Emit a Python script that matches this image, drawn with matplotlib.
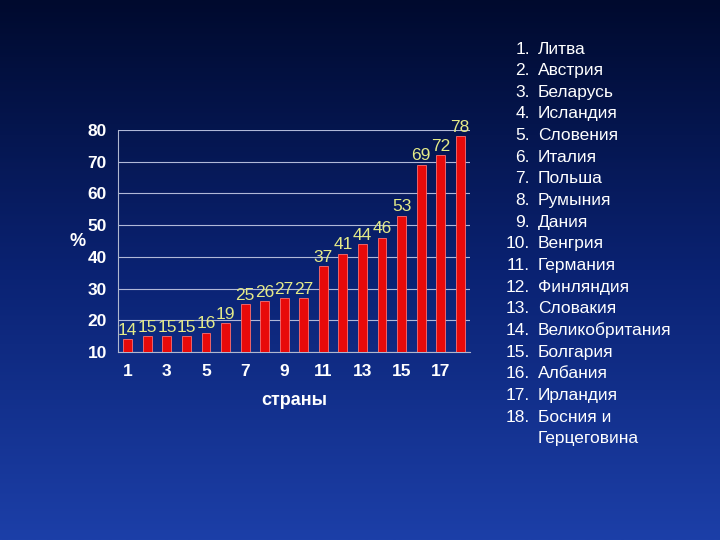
import matplotlib
matplotlib.use("Agg")
import matplotlib.pyplot as plt
import numpy as np
from matplotlib.colors import LinearSegmentedColormap

countries = ["Литва", "Австрия", "Беларусь", "Исландия", "Словения", "Италия",
             "Польша", "Румыния", "Дания", "Венгрия", "Германия", "Финляндия",
             "Словакия", "Великобритания", "Болгария", "Албания", "Ирландия",
             "Босния и\nГерцеговина"]
positions = list(range(1, 19))
values = [14, 15, 15, 15, 16, 19, 25, 26, 27, 27, 37, 41, 44, 46, 53, 69, 72, 78]
yticks = [10, 20, 30, 40, 50, 60, 70, 80]
xticks = [1, 3, 5, 7, 9, 11, 13, 15, 17]

plt.rcParams['font.family'] = ['Liberation Sans', 'DejaVu Sans']

fig = plt.figure(figsize=(7.2, 5.4), dpi=100)
bg = fig.add_axes([0, 0, 1, 1])
cmap = LinearSegmentedColormap.from_list("bg", ["#000a2e", "#0a2272", "#1c3fa8"])
grad = np.linspace(0, 1, 256).reshape(-1, 1)
bg.imshow(grad, aspect='auto', cmap=cmap, extent=[0, 1, 0, 1], origin='upper')
bg.axis('off')

ax = fig.add_axes([118/720, 1 - 352/540, (470-118)/720, (352-130)/540])
ax.patch.set_alpha(0)
ax.bar(positions, values, width=0.45, color="#e80a0a", edgecolor="#ff7070",
       linewidth=0.6, zorder=3)
ax.set_xlim(0.5, 18.5)
ax.set_ylim(10, 80)
ax.set_yticks(yticks)
ax.set_xticks(xticks)
ax.grid(axis='y', color='#b0b8d8', linewidth=0.8, zorder=0)
for s in ['top', 'right']:
    ax.spines[s].set_visible(False)
for s in ['left', 'bottom']:
    ax.spines[s].set_color('#b0b8d0')
ax.tick_params(colors='white', labelsize=12.5)
ax.tick_params(axis='y', length=0, pad=8)
ax.tick_params(axis='x', length=0, pad=9)
for lab in ax.get_yticklabels() + ax.get_xticklabels():
    lab.set_fontweight('bold')

for p, v in zip(positions, values):
    ax.text(p, v + 0.5, str(v), ha='center', va='bottom', color='#e4ea88',
            fontsize=12.5, zorder=4)

ax.set_ylabel('%', color='white', fontsize=13, rotation=0, labelpad=7,
              fontweight='bold', va='center')
ax.set_xlabel('страны', color='white', fontsize=13, labelpad=9, fontweight='bold')

step = 21.65
y = 49
for i, c in enumerate(countries):
    fig.text(530/720, 1 - y/540, f"{i+1}.", ha='right', va='center', color='white', fontsize=12.5)
    for j, line in enumerate(c.split('\n')):
        fig.text(538/720, 1 - (y + j * step)/540, line, ha='left', va='center',
                 color='white', fontsize=12.5)
    y += step

fig.savefig('out.png', dpi=100)
